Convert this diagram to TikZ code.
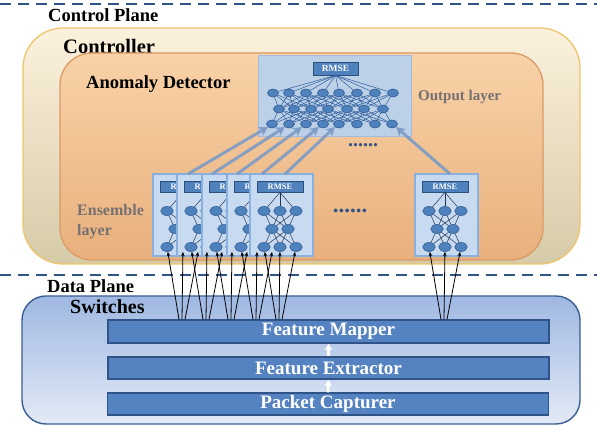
\documentclass[tikz,border=0pt]{standalone}
\usepackage{fontspec}
\setmainfont{Liberation Serif}
\usetikzlibrary{arrows.meta,shapes.geometric,calc}

\definecolor{dashblue}{HTML}{2F5486}
\definecolor{ctrltop}{HTML}{FCF1DC}
\definecolor{ctrlbot}{HTML}{D6CBA8}
\definecolor{ctrldraw}{HTML}{EEC46C}
\definecolor{anomtop}{HTML}{F9D2A8}
\definecolor{anombot}{HTML}{E8B07C}
\definecolor{anomdraw}{HTML}{D99A66}
\definecolor{outfill}{HTML}{BCD0E8}
\definecolor{outdraw}{HTML}{A3BCDD}
\definecolor{efill}{HTML}{C8DAF0}
\definecolor{edraw}{HTML}{8AB0E0}
\definecolor{nfill}{HTML}{4F81BD}
\definecolor{ndraw}{HTML}{2F5C95}
\definecolor{rmsefill}{HTML}{4F81BD}
\definecolor{rmsedraw}{HTML}{2C4F7C}
\definecolor{fatarrow}{HTML}{7D9BC6}
\definecolor{swtop}{HTML}{9FB8E2}
\definecolor{swbot}{HTML}{E3EAF6}
\definecolor{swdraw}{HTML}{3B5E92}
\definecolor{barfill}{HTML}{5583C1}
\definecolor{bardraw}{HTML}{2F5287}
\definecolor{labelgrey}{HTML}{767171}
\definecolor{olink}{HTML}{2E5C9A}
\definecolor{elinkc}{HTML}{22344F}

\tikzset{
  planeline/.style={draw=dashblue, line width=2.2pt, dash pattern=on 11pt off 7pt},
  heading/.style={font=\bfseries\fontsize{18.5}{20}\selectfont, anchor=west, inner sep=0pt},
  bigheading/.style={font=\bfseries\fontsize{20.5}{22}\selectfont, anchor=west, inner sep=0pt},
  greylabel/.style={font=\bfseries\fontsize{16}{20}\selectfont, text=labelgrey, anchor=west, inner sep=0pt, align=left},
  roundbox/.style={rectangle, inner sep=0pt},
  neuron/.style={ellipse, fill=nfill, draw=ndraw, line width=0.6pt, minimum width=11pt, minimum height=8pt, inner sep=0pt},
  eneuron/.style={neuron, minimum width=12.5pt, minimum height=9pt},
  rmsebox/.style={rectangle, fill=rmsefill, draw=rmsedraw, line width=0.8pt, inner sep=0pt, text=white, font=\bfseries\fontsize{8.5}{9}\selectfont},
  ebox/.style={rectangle, fill=efill, draw=edraw, line width=1.6pt, minimum width=63pt, minimum height=82pt, inner sep=0pt},
  elink/.style={draw=elinkc, line width=0.5pt},
  olinkst/.style={draw=olink, line width=0.5pt},
  fat/.style={draw=fatarrow, line width=3pt, opacity=0.9, -{Stealth[length=9pt,width=10pt]}},
  feed/.style={draw=black, line width=0.8pt, -{Stealth[length=4.5pt,width=3.5pt]}},
  bar/.style={rectangle, fill=barfill, draw=bardraw, line width=1.2pt, minimum width=441pt, inner sep=0pt, text=white, font=\bfseries\fontsize{19}{20}\selectfont},
  uparrow/.style={draw=white, line width=2.6pt, -{Latex[length=6pt,width=8.5pt]}},
  dots/.style={font=\bfseries\fontsize{20}{20}\selectfont, text=dashblue, inner sep=0pt},
  ensemble/.pic={
    \node[ebox] (-box) at (31.5,41) {};
    \node[rmsebox, minimum width=46pt, minimum height=11pt] (-rmse) at (30,12.5) {RMSE};
    \node[eneuron] (-a1) at (14,37) {};
    \node[eneuron] (-a2) at (30,37) {};
    \node[eneuron] (-a3) at (46,37) {};
    \node[eneuron] (-b1) at (22,55) {};
    \node[eneuron] (-b2) at (38,55) {};
    \node[eneuron] (-c1) at (14,73) {};
    \node[eneuron] (-c2) at (30,73) {};
    \node[eneuron] (-c3) at (46,73) {};
    \foreach \i in {1,2,3} {
      \draw[elink] (-rmse.south) -- (-a\i);
      \foreach \j in {1,2} {
        \draw[elink] (-a\i) -- (-b\j);
        \draw[elink] (-b\j) -- (-c\i);
      }
    }
    \coordinate (-top) at (35,0);
    \coordinate (-g1) at (26,0);
    \coordinate (-g2) at (29,0);
    \coordinate (-g3) at (32,0);
  }
}

\begin{document}
\begin{tikzpicture}[x=1pt,y=-1pt]
\useasboundingbox (0,0) rectangle (597,430);

% plane separators
\coordinate (sepAl) at (0,4);   \coordinate (sepAr) at (597,4);
\coordinate (sepBl) at (0,275); \coordinate (sepBr) at (597,275);
\draw[planeline] (sepAl) -- (sepAr);
\draw[planeline] (sepBl) -- (sepBr);

\node[heading] (cplane) at (48,15.5) {Control Plane};

% controller and detector
\node[roundbox, minimum width=557pt, minimum height=236pt, rounded corners=40pt,
      top color=ctrltop, bottom color=ctrlbot, draw=ctrldraw, line width=1.3pt] (ctrl) at (301.5,146) {};
\node[bigheading] (ctrltext) at (63,46) {Controller};
\node[roundbox, minimum width=483pt, minimum height=207pt, rounded corners=32pt,
      top color=anomtop, bottom color=anombot, draw=anomdraw, line width=1.3pt] (anom) at (301.5,156.5) {};
\node[heading, font=\bfseries\fontsize{18.5}{20}\selectfont] (anomtext) at (86,84) {Anomaly Detector};

% output layer
\node[rectangle, fill=outfill, draw=outdraw, line width=1pt, minimum width=153pt, minimum height=81pt] (outbox) at (334.5,96.5) {};
\node[rmsebox, minimum width=45pt, minimum height=13pt, font=\bfseries\fontsize{9.5}{10}\selectfont] (ormse) at (335.5,68.5) {RMSE};
\foreach \x [count=\i] in {273,289,306,323,339,357,375,393}
  \node[neuron] (ra\i) at (\x,93) {};
\foreach \x [count=\i] in {279,294,311,328,347,364,383}
  \node[neuron] (rb\i) at (\x,109) {};
\foreach \x [count=\i] in {272,289,306,323,339,357,375,392}
  \node[neuron] (rc\i) at (\x,124) {};
\foreach \k in {1,...,8}
  \draw[olinkst] (ormse.south) -- (ra\k);
\foreach \j in {1,...,7} {
  \foreach \k in {1,...,8} {
    \pgfmathtruncatemacro\near{abs(\k-\j-0.5)<2.6}
    \ifnum\near=1
      \draw[olinkst] (rb\j) -- (ra\k);
      \draw[olinkst] (rb\j) -- (rc\k);
    \fi
  }
}
\node[greylabel, font=\bfseries\fontsize{15}{18}\selectfont] (outtext) at (418,97) {Output layer};
\node[dots] (odots) at (363,145) {......};

% ensemble layer
\node[greylabel] (enstext) at (77,222) {Ensemble\\layer};
\pic (e1) at (153,174) {ensemble};
\pic (e2) at (177,174) {ensemble};
\pic (e3) at (202,174) {ensemble};
\pic (e4) at (227,174) {ensemble};
\pic (e5) at (250,174) {ensemble};
\pic (e6) at (415,174) {ensemble};
\node[dots, font=\bfseries\fontsize{23}{23}\selectfont] (edots) at (350,211) {......};

% ensemble outputs into the output layer
\draw[fat] (e1-top) -- (rc1.south west);
\draw[fat] (e2-top) -- (rc2.south west);
\draw[fat] (e3-top) -- (rc3.south west);
\draw[fat] (e4-top) -- (rc4.south west);
\draw[fat] (e5-top) -- (rc5.south west);
\draw[fat] (e6-top) -- (rc8.south east);

\node[heading] (dplane) at (47,286) {Data Plane};

% switch pipeline
\node[roundbox, minimum width=558pt, minimum height=128pt, rounded corners=24pt,
      top color=swtop, bottom color=swbot, draw=swdraw, line width=1.4pt] (sw) at (301,360) {};
\node[bigheading, font=\bfseries\fontsize{20}{22}\selectfont] (swtext) at (70,307) {Switches};
\node[bar, minimum height=23pt] (map) at (328.5,331.5) {Feature Mapper};
\node[bar, minimum height=22pt] (ext) at (328.5,368) {Feature Extractor};
\node[bar, minimum height=22pt] (cap) at (328,404) {Packet Capturer};
\draw[uparrow] (cap.north) -- (ext.south);
\draw[uparrow] (ext.north) -- (map.south);

% mapped features feeding each autoencoder
\foreach \e in {e1,e2,e3,e4,e5,e6} {
  \foreach \n in {1,2,3} {
    \draw[feed] (\e-g\n |- map.north) -- (\e-c\n);
  }
}
\end{tikzpicture}
\end{document}
